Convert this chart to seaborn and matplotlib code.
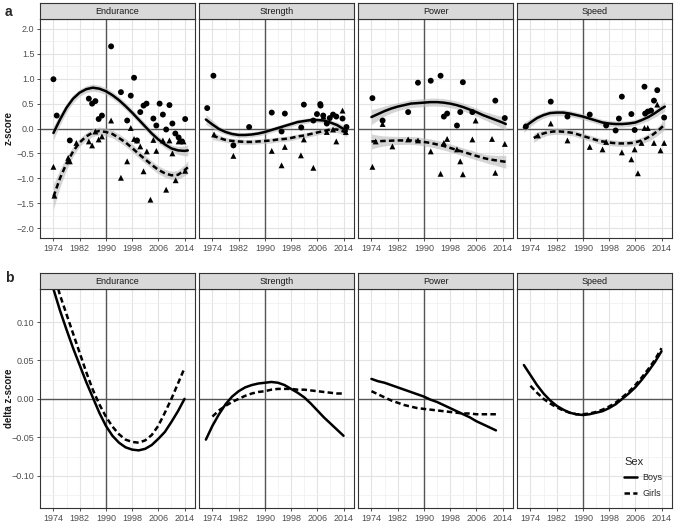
import numpy as np
import pandas as pd
import matplotlib
matplotlib.use('Agg')
import matplotlib.pyplot as plt
from matplotlib.lines import Line2D
import seaborn as sns

sns.set_style('white')
plt.rcParams['font.family'] = ['Liberation Sans', 'DejaVu Sans']

panels = ['Endurance', 'Strength', 'Power', 'Speed']

# ---- panel a: observed z-scores (points) ----
end_boys_x = [1974.0, 1975.0, 1979.0, 1984.8, 1985.8, 1986.8, 1987.8, 1988.8, 1991.6, 1994.6, 1996.5,
              1997.6, 1998.6, 1999.5, 2000.5, 2001.5, 2002.4, 2004.5, 2005.4, 2006.4, 2007.4, 2008.4,
              2009.4, 2010.3, 2011.2, 2012.2, 2013.2, 2014.2]
end_boys_y = [0.99, 0.26, -0.24, 0.60, 0.50, 0.55, 0.19, 0.26, 1.65, 0.73, 0.16,
              0.66, 1.02, -0.24, 0.33, 0.46, 0.50, 0.20, 0.06, 0.50, 0.28, -0.02,
              0.47, 0.10, -0.10, -0.18, -0.26, 0.19]
end_girls_x = [1974.0, 1974.3, 1978.5, 1979.0, 1981.0, 1984.8, 1985.8, 1986.8, 1987.8, 1988.8, 1991.6,
               1994.6, 1996.5, 1997.6, 1998.6, 1999.5, 2000.5, 2001.5, 2002.5, 2003.6, 2004.5, 2005.4,
               2007.4, 2008.4, 2009.4, 2010.3, 2011.3, 2012.2, 2013.7, 2014.2]
end_girls_y = [-0.77, -1.35, -0.59, -0.66, -0.29, -0.26, -0.34, -0.06, -0.22, -0.16, 0.16,
               -0.99, -0.66, 0.01, -0.21, -0.24, -0.36, -0.86, -0.46, -1.43, -0.23, -0.45,
               -0.24, -1.23, -0.24, -0.50, -1.04, -0.26, -0.26, -0.85]

str_boys_x = [1972.4, 1974.3, 1980.4, 1985.2, 1992.1, 1995.1, 1996.1, 2001.1, 2001.9, 2004.8, 2005.9,
              2006.9, 2007.0, 2007.8, 2008.9, 2009.8, 2010.8, 2011.8, 2013.7, 2014.9]
str_boys_y = [0.41, 1.06, -0.34, 0.03, 0.32, -0.06, 0.30, 0.02, 0.48, 0.16, 0.29,
              0.49, 0.46, 0.26, 0.10, 0.21, 0.28, 0.24, 0.20, 0.03]
str_girls_x = [1974.5, 1980.4, 1992.1, 1995.1, 1996.1, 2001.0, 2001.9, 2004.8, 2007.9, 2008.9, 2010.8,
               2011.8, 2013.7, 2014.7]
str_girls_y = [-0.12, -0.55, -0.45, -0.74, -0.37, -0.54, -0.22, -0.79, 0.24, -0.07, -0.02,
               -0.26, 0.36, -0.07]

pow_boys_x = [1974.3, 1977.4, 1985.2, 1988.2, 1992.1, 1995.1, 1996.1, 1997.1, 2000.1, 2001.1, 2001.9,
              2004.8, 2011.8, 2014.7]
pow_boys_y = [0.61, 0.16, 0.33, 0.92, 0.96, 1.06, 0.24, 0.30, 0.06, 0.33, 0.93,
              0.33, 0.56, 0.21]
pow_girls_x = [1974.3, 1975.3, 1977.4, 1980.4, 1985.2, 1988.2, 1992.1, 1995.1, 1996.1, 1997.1, 2000.1,
               2001.1, 2001.9, 2004.8, 2005.8, 2010.8, 2011.8, 2014.7]
pow_girls_y = [-0.77, -0.26, 0.09, -0.36, -0.22, -0.24, -0.46, -0.91, -0.29, -0.21, -0.42,
               -0.66, -0.92, -0.22, 0.16, -0.21, -0.89, -0.31]

spd_boys_x = [1972.6, 1980.2, 1985.3, 1992.1, 1997.1, 2000.0, 2001.0, 2001.9, 2004.8, 2005.8, 2008.8,
              2009.0, 2009.8, 2010.8, 2011.7, 2012.7, 2014.8]
spd_boys_y = [0.04, 0.54, 0.24, 0.28, 0.06, -0.04, 0.20, 0.64, 0.29, -0.03, 0.84,
              0.30, 0.34, 0.36, 0.56, 0.77, 0.22]
spd_girls_x = [1976.3, 1980.2, 1985.3, 1992.1, 1996.0, 1997.1, 2001.9, 2004.8, 2005.8, 2006.8, 2007.9,
               2008.8, 2009.8, 2011.7, 2012.7, 2013.7, 2014.8]
spd_girls_y = [-0.14, 0.10, -0.24, -0.37, -0.42, -0.27, -0.48, -0.62, -0.42, -0.90, -0.29,
               0.01, 0.01, -0.29, 0.48, -0.44, -0.29]

# ---- panel a: fitted trends with confidence band half-widths ----
end_fit_yr = [1974, 1976, 1978, 1980, 1982, 1984, 1986, 1988, 1990, 1992, 1994, 1996, 1998, 2000,
              2002, 2004, 2006, 2008, 2010, 2012, 2014, 2015]
end_boys_fit = [-0.09, 0.18, 0.42, 0.60, 0.72, 0.79, 0.82, 0.80, 0.75, 0.67, 0.57, 0.45, 0.32, 0.18,
                0.04, -0.10, -0.22, -0.32, -0.40, -0.44, -0.45, -0.44]
end_boys_se = [0.14, 0.11, 0.09, 0.08, 0.07, 0.07, 0.07, 0.07, 0.07, 0.07, 0.07, 0.07, 0.07, 0.07,
               0.07, 0.07, 0.07, 0.07, 0.07, 0.08, 0.10, 0.11]
end_girls_fit = [-1.37, -1.00, -0.70, -0.46, -0.28, -0.16, -0.08, -0.05, -0.07, -0.11, -0.19, -0.28,
                 -0.39, -0.51, -0.62, -0.73, -0.83, -0.90, -0.94, -0.93, -0.84, -0.78]
end_girls_se = [0.25, 0.18, 0.13, 0.10, 0.08, 0.08, 0.08, 0.08, 0.08, 0.08, 0.08, 0.08, 0.08, 0.08,
                0.08, 0.08, 0.08, 0.08, 0.08, 0.09, 0.11, 0.13]

str_boys_yr = [1972, 1974, 1976, 1978, 1980, 1982, 1984, 1986, 1988, 1990, 1992, 1994, 1996, 1998,
               2000, 2002, 2004, 2006, 2008, 2010, 2012, 2014, 2015]
str_boys_fit = [0.18, 0.08, -0.01, -0.07, -0.11, -0.13, -0.13, -0.12, -0.10, -0.07, -0.03, 0.01, 0.05,
                0.09, 0.13, 0.15, 0.17, 0.17, 0.16, 0.12, 0.07, -0.01, -0.05]
str_boys_se = [0.10, 0.08, 0.06, 0.05, 0.05, 0.05, 0.05, 0.05, 0.05, 0.05, 0.05, 0.05, 0.05, 0.05,
               0.05, 0.05, 0.05, 0.05, 0.05, 0.05, 0.06, 0.08, 0.09]
str_girls_yr = end_fit_yr
str_girls_fit = [-0.14, -0.19, -0.23, -0.25, -0.26, -0.27, -0.27, -0.26, -0.25, -0.24, -0.22, -0.21,
                 -0.19, -0.16, -0.14, -0.11, -0.08, -0.05, -0.02, -0.02, -0.06, -0.09]
str_girls_se = [0.08, 0.06, 0.05, 0.05, 0.05, 0.05, 0.05, 0.05, 0.05, 0.05, 0.05, 0.05, 0.05, 0.05,
                0.05, 0.05, 0.05, 0.05, 0.05, 0.06, 0.07, 0.08]

pow_fit_yr = end_fit_yr
pow_boys_fit = [0.23, 0.29, 0.35, 0.40, 0.44, 0.47, 0.50, 0.51, 0.52, 0.53, 0.53, 0.52, 0.50, 0.47,
                0.43, 0.38, 0.33, 0.27, 0.22, 0.17, 0.12, 0.09]
pow_boys_se = [0.15, 0.12, 0.10, 0.09, 0.08, 0.08, 0.08, 0.08, 0.08, 0.08, 0.08, 0.08, 0.08, 0.08,
               0.08, 0.08, 0.08, 0.08, 0.09, 0.10, 0.12, 0.13]
pow_girls_fit = [-0.26, -0.255, -0.25, -0.245, -0.24, -0.24, -0.24, -0.25, -0.27, -0.29, -0.32, -0.35,
                 -0.39, -0.43, -0.47, -0.51, -0.55, -0.59, -0.62, -0.64, -0.66, -0.67]
pow_girls_se = [0.15, 0.12, 0.10, 0.09, 0.08, 0.08, 0.08, 0.08, 0.08, 0.08, 0.08, 0.08, 0.08, 0.08,
                0.08, 0.08, 0.08, 0.08, 0.09, 0.10, 0.12, 0.13]

spd_boys_yr = str_boys_yr
spd_boys_fit = [0.02, 0.12, 0.21, 0.27, 0.31, 0.32, 0.32, 0.30, 0.27, 0.24, 0.20, 0.16, 0.12, 0.10,
                0.09, 0.09, 0.10, 0.12, 0.17, 0.23, 0.31, 0.40, 0.44]
spd_boys_se = [0.10, 0.08, 0.07, 0.06, 0.06, 0.06, 0.06, 0.06, 0.06, 0.06, 0.06, 0.06, 0.06, 0.06,
               0.06, 0.06, 0.06, 0.06, 0.06, 0.07, 0.08, 0.09, 0.10]
spd_girls_yr = [1975, 1977, 1979, 1981, 1983, 1985, 1987, 1989, 1991, 1993, 1995, 1997, 1999, 2001,
                2003, 2005, 2007, 2009, 2011, 2013, 2015]
spd_girls_fit = [-0.19, -0.12, -0.08, -0.06, -0.06, -0.07, -0.09, -0.13, -0.17, -0.21, -0.25, -0.27,
                 -0.29, -0.30, -0.30, -0.29, -0.26, -0.21, -0.14, -0.04, 0.08]
spd_girls_se = [0.09, 0.07, 0.06, 0.06, 0.06, 0.06, 0.06, 0.06, 0.06, 0.06, 0.06, 0.06, 0.06, 0.06,
                0.06, 0.06, 0.06, 0.07, 0.08, 0.09, 0.10]

# ---- panel b: delta z-score curves ----
d_yr = [1974, 1976, 1978, 1980, 1982, 1984, 1986, 1988, 1990, 1992, 1994, 1996, 1998, 2000,
        2002, 2004, 2006, 2008, 2010, 2012, 2014]
d_end_boys = [0.143, 0.115, 0.090, 0.066, 0.044, 0.022, 0.002, -0.018, -0.035, -0.048, -0.057, -0.063,
              -0.066, -0.067, -0.065, -0.060, -0.052, -0.043, -0.030, -0.016, 0.000]
d_end_girls = [0.165, 0.135, 0.110, 0.085, 0.060, 0.035, 0.012, -0.007, -0.023, -0.036, -0.046, -0.053,
               -0.056, -0.057, -0.054, -0.047, -0.035, -0.018, 0.000, 0.020, 0.040]

d_str_yr = [1972, 1974, 1976, 1978, 1980, 1982, 1984, 1986, 1988, 1990, 1992, 1994, 1996, 1998,
            2000, 2002, 2004, 2006, 2008, 2010, 2012, 2014]
d_str_boys = [-0.053, -0.035, -0.020, -0.007, 0.003, 0.010, 0.015, 0.018, 0.020, 0.021, 0.022, 0.021,
              0.018, 0.013, 0.008, 0.002, -0.006, -0.015, -0.024, -0.032, -0.040, -0.048]
d_str_girls_yr = d_yr
d_str_girls = [-0.023, -0.015, -0.009, -0.004, 0.000, 0.004, 0.007, 0.009, 0.010, 0.012, 0.013, 0.013,
               0.013, 0.012, 0.012, 0.011, 0.010, 0.009, 0.008, 0.007, 0.007]

d_pow_yr = [1974, 1976, 1978, 1980, 1982, 1984, 1986, 1988, 1990, 1992, 1994, 1996, 1998, 2000,
            2002, 2004, 2006, 2008, 2010, 2012]
d_pow_boys = [0.026, 0.023, 0.021, 0.018, 0.015, 0.012, 0.009, 0.006, 0.003, -0.001, -0.004, -0.008,
              -0.012, -0.016, -0.020, -0.024, -0.029, -0.033, -0.037, -0.041]
d_pow_girls = [0.010, 0.006, 0.002, -0.002, -0.005, -0.008, -0.010, -0.012, -0.013, -0.014, -0.015,
               -0.016, -0.017, -0.018, -0.019, -0.019, -0.020, -0.020, -0.020, -0.020]

d_spd_yr = d_str_yr
d_spd_boys = [0.044, 0.031, 0.018, 0.007, -0.002, -0.009, -0.014, -0.018, -0.020, -0.021, -0.020,
              -0.018, -0.016, -0.012, -0.007, 0.000, 0.007, 0.015, 0.025, 0.036, 0.048, 0.062]
d_spd_girls_yr = d_yr
d_spd_girls = [0.017, 0.008, 0.000, -0.006, -0.011, -0.015, -0.018, -0.020, -0.020, -0.019, -0.017,
               -0.014, -0.010, -0.005, 0.002, 0.009, 0.018, 0.028, 0.039, 0.051, 0.066]

top_points = [
    (end_boys_x, end_boys_y, end_girls_x, end_girls_y),
    (str_boys_x, str_boys_y, str_girls_x, str_girls_y),
    (pow_boys_x, pow_boys_y, pow_girls_x, pow_girls_y),
    (spd_boys_x, spd_boys_y, spd_girls_x, spd_girls_y),
]
top_fits = [
    [(end_fit_yr, end_boys_fit, end_boys_se, 'Boys'), (end_fit_yr, end_girls_fit, end_girls_se, 'Girls')],
    [(str_boys_yr, str_boys_fit, str_boys_se, 'Boys'), (str_girls_yr, str_girls_fit, str_girls_se, 'Girls')],
    [(pow_fit_yr, pow_boys_fit, pow_boys_se, 'Boys'), (pow_fit_yr, pow_girls_fit, pow_girls_se, 'Girls')],
    [(spd_boys_yr, spd_boys_fit, spd_boys_se, 'Boys'), (spd_girls_yr, spd_girls_fit, spd_girls_se, 'Girls')],
]
bottom_fits = [
    [(d_yr, d_end_boys, 'Boys'), (d_yr, d_end_girls, 'Girls')],
    [(d_str_yr, d_str_boys, 'Boys'), (d_str_girls_yr, d_str_girls, 'Girls')],
    [(d_pow_yr, d_pow_boys, 'Boys'), (d_pow_yr, d_pow_girls, 'Girls')],
    [(d_spd_yr, d_spd_boys, 'Boys'), (d_spd_girls_yr, d_spd_girls, 'Girls')],
]

W, H = 676, 523
fig = plt.figure(figsize=(W / 100, H / 100), dpi=100)

panel_left = [40, 199, 358, 517]
panel_w = 155
dash_style = {'Boys': '', 'Girls': (2.2, 1.3)}
txt_col = '#4d4d4d'
border = '#333333'


def px_rect(x0, y0, w, h):
    return [x0 / W, 1 - (y0 + h) / H, w / W, h / H]


def style_panel(ax, name, yticks, yminor, ylim, first):
    ax.set_xlim(1969.9, 2017.2)
    ax.set_ylim(*ylim)
    ax.set_xticks([1974, 1982, 1990, 1998, 2006, 2014])
    ax.set_xticks([1978, 1986, 1994, 2002, 2010], minor=True)
    ax.set_yticks(yticks)
    ax.set_yticks(yminor, minor=True)
    ax.grid(which='major', color='#e3e3e3', lw=0.8)
    ax.grid(which='minor', color='#efefef', lw=0.5)
    ax.set_axisbelow(True)
    ax.axvline(1990, color='#555555', lw=1.0, zorder=1.5)
    ax.axhline(0, color='#555555', lw=1.0, zorder=1.5)
    ax.tick_params(which='major', length=2.5, width=0.6, color=border, labelsize=6.5,
                   labelcolor=txt_col, pad=1.5, bottom=True, left=first)
    ax.tick_params(which='minor', length=0)
    if not first:
        ax.set_yticklabels([])
    for s in ax.spines.values():
        s.set_color(border)
        s.set_linewidth(0.8)
    ax.set_xlabel('')
    ax.set_ylabel('')
    # facet strip on top of the panel
    l, b, w, h = ax.get_position().bounds
    sax = fig.add_axes([l, b + h, w, 16 / H])
    sax.set_facecolor('#d9d9d9')
    sax.set_xticks([])
    sax.set_yticks([])
    for s in sax.spines.values():
        s.set_color(border)
        s.set_linewidth(0.8)
    sax.text(0.5, 0.45, name, ha='center', va='center', fontsize=6.5, color='#1a1a1a',
             transform=sax.transAxes)


# ---- top row ----
for i, name in enumerate(panels):
    ax = fig.add_axes(px_rect(panel_left[i], 19, panel_w, 219))
    bx, by, gx, gy = top_points[i]
    pts = pd.DataFrame({'year': bx + gx, 'z': by + gy,
                        'Sex': ['Boys'] * len(bx) + ['Girls'] * len(gx)})
    for yr, fit, se, sex in top_fits[i]:
        lo = [f - s for f, s in zip(fit, se)]
        hi = [f + s for f, s in zip(fit, se)]
        ax.fill_between(yr, lo, hi, color='#bababa', alpha=0.6, lw=0, zorder=2)
    sns.scatterplot(data=pts, x='year', y='z', style='Sex', markers={'Boys': 'o', 'Girls': '^'},
                    color='black', s=18, linewidth=0, legend=False, ax=ax, zorder=3)
    fits = pd.concat([pd.DataFrame({'year': yr, 'z': fit, 'Sex': sex})
                      for yr, fit, se, sex in top_fits[i]])
    sns.lineplot(data=fits, x='year', y='z', style='Sex', dashes=dash_style, color='black',
                 lw=1.8, legend=False, ax=ax, zorder=4, errorbar=None, sort=True)
    style_panel(ax, name, np.arange(-2.0, 2.01, 0.5), np.arange(-1.75, 2.0, 0.5),
                (-2.2, 2.2), i == 0)

# ---- bottom row ----
for i, name in enumerate(panels):
    ax = fig.add_axes(px_rect(panel_left[i], 289, panel_w, 219))
    fits = pd.concat([pd.DataFrame({'year': yr, 'dz': v, 'Sex': sex})
                      for yr, v, sex in bottom_fits[i]])
    sns.lineplot(data=fits, x='year', y='dz', style='Sex', dashes=dash_style, color='black',
                 lw=1.8, legend=False, ax=ax, zorder=4, errorbar=None, sort=True)
    style_panel(ax, name, [-0.10, -0.05, 0.0, 0.05, 0.10],
                [-0.125, -0.075, -0.025, 0.025, 0.075, 0.125], (-0.142, 0.143), i == 0)
    if name == 'Speed':
        handles = [Line2D([], [], color='black', lw=1.8),
                   Line2D([], [], color='black', lw=1.8, dashes=dash_style['Girls'])]
        ax.legend(handles, ['Boys', 'Girls'], title='Sex', loc='lower right',
                  bbox_to_anchor=(0.99, 0.01), frameon=False, fontsize=6.5,
                  title_fontsize=8, handlelength=1.4, handletextpad=0.6,
                  labelspacing=0.7, alignment='left')

fig.text(9 / W, 1 - 128 / H, 'z-score', rotation=90, ha='center', va='center',
         fontsize=7, fontweight='bold', color='#1a1a1a')
fig.text(9 / W, 1 - 398 / H, 'delta z-score', rotation=90, ha='center', va='center',
         fontsize=7, fontweight='bold', color='#1a1a1a')
fig.text(5 / W, 1 - 12 / H, 'a', ha='left', va='center', fontsize=10, fontweight='bold')
fig.text(5 / W, 1 - 278 / H, 'b', ha='left', va='center', fontsize=10, fontweight='bold')

fig.savefig('out.png', dpi=100)
